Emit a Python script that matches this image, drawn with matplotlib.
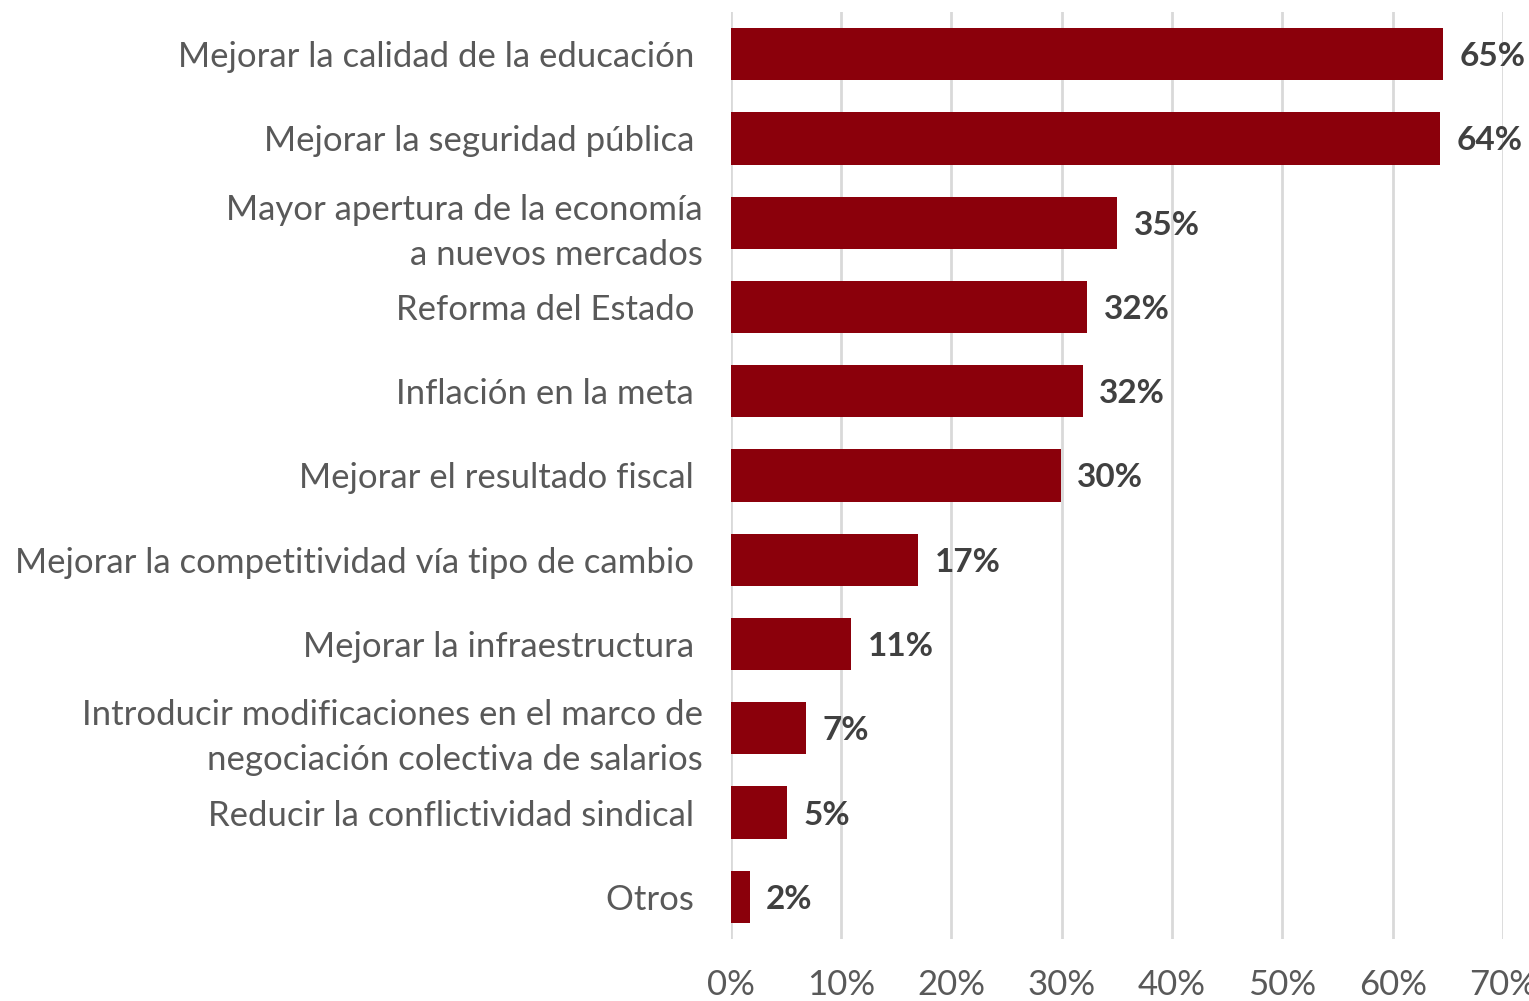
import numpy as np
import matplotlib.pyplot as plt

plt.rcParams['font.family'] = ['Lato', 'DejaVu Sans']

categorias = [
    'Mejorar la calidad de la educación ',
    'Mejorar la seguridad pública ',
    'Mayor apertura de la economía\na nuevos mercados',
    'Reforma del Estado ',
    'Inflación en la meta ',
    'Mejorar el resultado fiscal ',
    'Mejorar la competitividad vía tipo de cambio ',
    'Mejorar la infraestructura ',
    'Introducir modificaciones en el marco de\nnegociación colectiva de salarios',
    'Reducir la conflictividad sindical ',
    'Otros ',
]
valores = [64.6, 64.3, 35.0, 32.3, 31.9, 29.9, 17.0, 10.9, 6.8, 5.1, 1.7]
xticks = [0, 10, 20, 30, 40, 50, 60, 70]

fig = plt.figure(figsize=(15.29, 10.01), dpi=100)
ax = fig.add_axes([0.478, 0.062, 0.505, 0.926])

y = np.arange(len(categorias))
ax.barh(y, valores, height=0.62, color='#8B000B', zorder=3)

for yi, v in zip(y, valores):
    ax.text(v + 1.5, yi, f'{v:.0f}%', va='center_baseline', ha='left',
            fontsize=24, fontweight='bold', color='#404040')

ax.set_ylim(len(categorias) - 0.5, -0.5)
ax.set_xlim(0, 70)
ax.set_yticks(y)
ax.set_yticklabels(categorias, fontsize=25, color='#595959', linespacing=1.5)
ax.set_xticks(xticks)
ax.set_xticklabels([f'{t}%' for t in xticks], fontsize=25, color='#595959')
ax.tick_params(axis='y', length=0, pad=20)
ax.tick_params(axis='x', length=0, pad=22)
ax.xaxis.grid(True, color='#D9D9D9', linewidth=2, zorder=0)
for s in ax.spines.values():
    s.set_visible(False)

fig.savefig('out.png', dpi=100)
